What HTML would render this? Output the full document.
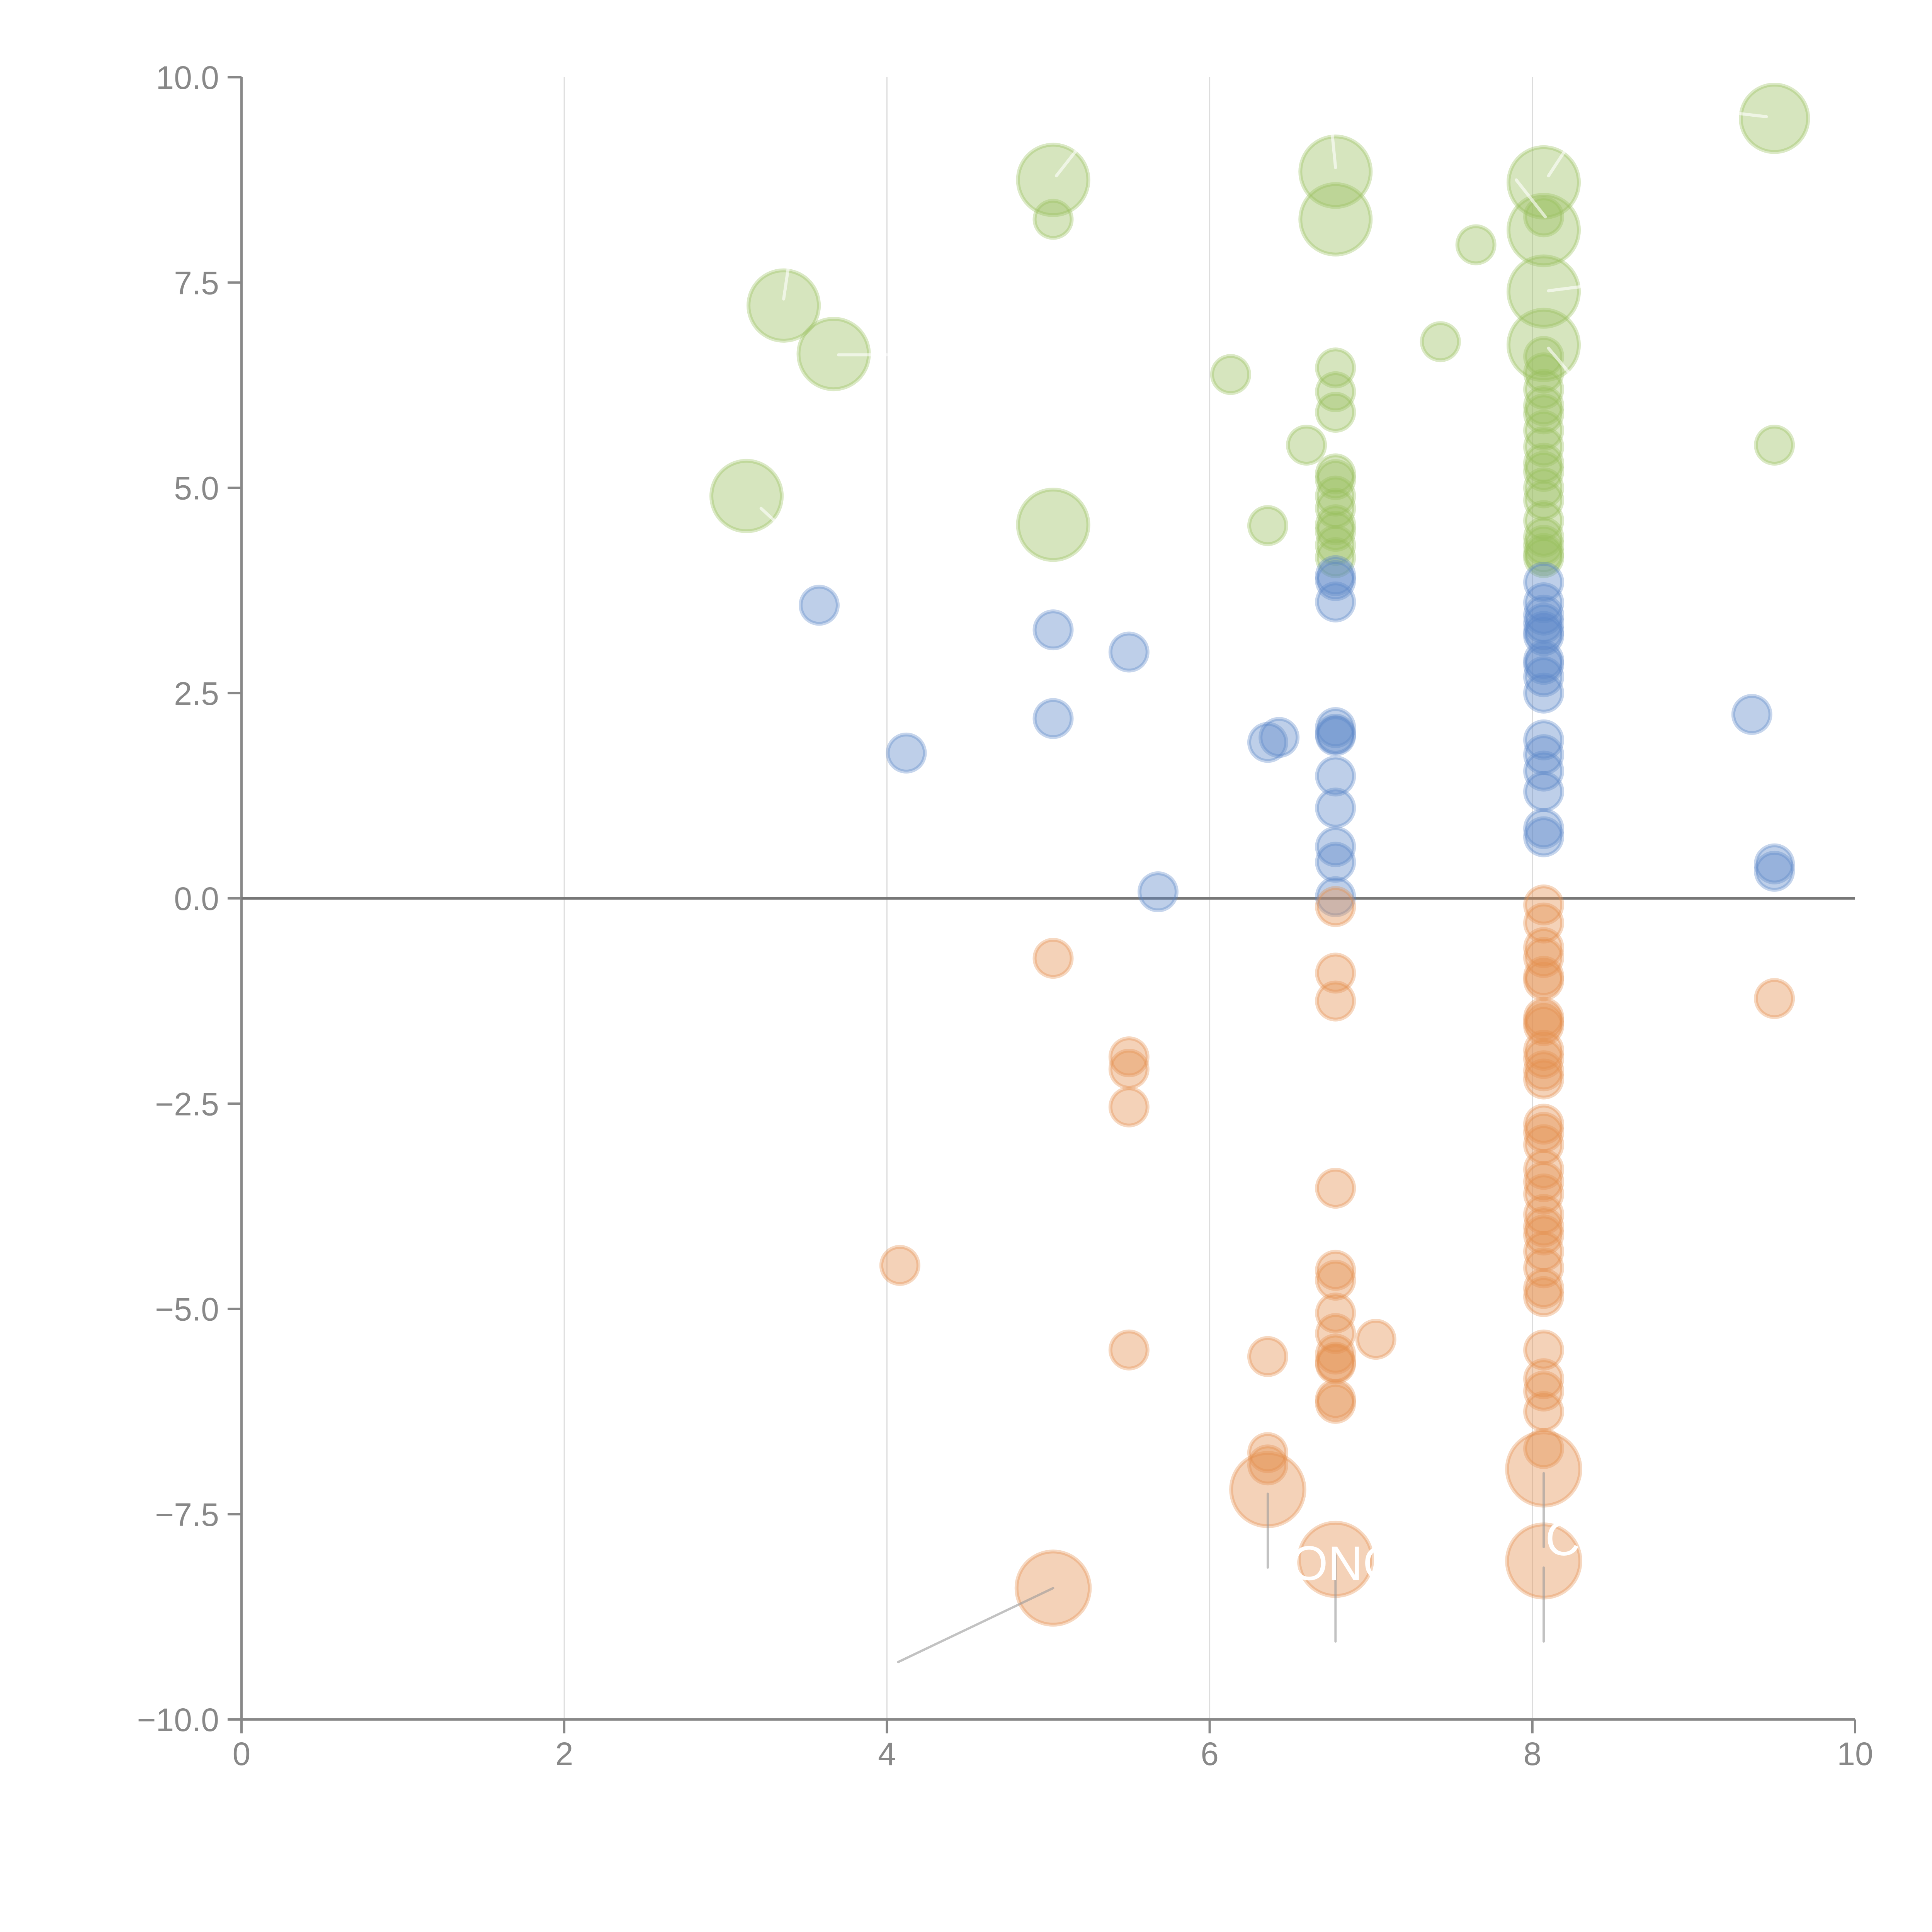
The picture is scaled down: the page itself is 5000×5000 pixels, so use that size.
<!DOCTYPE html>
<html><head><meta charset="utf-8"><style>
html,body{margin:0;padding:0;background:#fff;}
svg{display:block;}
text{font-family:"Liberation Sans",sans-serif;}
</style></head><body>
<svg id="chart" width="5000" height="5000" viewBox="0 0 5000 5000" xmlns="http://www.w3.org/2000/svg">
<g id="grid"></g>
<g id="axes"></g>
<g id="marks"></g>
<g id="annot"></g>
</svg>
<script>
const xTicks=[0,2,4,6,8,10];
const yTicks=[10,7.5,5,2.5,0,-2.5,-5,-7.5,-10];
const yTickLabels=["10.0","7.5","5.0","2.5","0.0","\u22122.5","\u22125.0","\u22127.5","\u221210.0"];
// green series
const greenX=[3.36,3.67,3.13,5.03,5.03,6.78,6.78,8.07,8.07,8.07,8.07,9.5,
 5.03,6.13,6.6,6.36,7.65,7.43,9.5,
 6.78,6.78,6.78,6.78,6.78,6.78,6.78,6.78,6.78,6.78,6.78,
 8.07,8.07,8.07,8.07,8.07,8.07,8.07,8.07,8.07,8.07,8.07,8.07,8.07,8.07,8.07,8.07,8.07];
const greenY=[7.22,6.63,4.9,8.75,4.55,8.85,8.27,8.72,8.14,7.39,6.74,9.5,
 8.27,6.38,5.52,4.54,7.96,6.78,5.52,
 6.46,6.17,5.92,5.17,5.1,4.9,4.75,4.55,4.3,4.15,4.47,
 6.6,6.4,6.2,6.0,5.9,5.7,5.5,5.3,5.2,5.0,4.85,4.6,4.4,4.3,4.2,4.15,8.3];
const greenS=[3.6,3.6,3.6,3.6,3.6,3.6,3.6,3.6,3.6,3.6,3.6,3.3,
 1,1,1,1,1,1,1, 1,1,1,1,1,1,1,1,1,1,1, 1,1,1,1,1,1,1,1,1,1,1,1,1,1,1,1,1];
// blue series
const blueX=[3.58,4.12,5.03,5.03,5.5,6.36,6.43,5.68,9.36,9.5,9.5,
 6.78,6.78,6.78,6.78,6.78,6.78,6.78,6.78,6.78,6.78,6.78,
 8.07,8.07,8.07,8.07,8.07,8.07,8.07,8.07,8.07,8.07,8.07,8.07,8.07,8.07,8.07,8.07];
const blueY=[3.57,1.77,3.27,2.19,3.0,1.9,1.96,0.08,2.24,0.42,0.33,
 3.93,3.87,3.61,2.08,2.0,1.98,1.49,1.1,0.63,0.44,0.02,
 3.85,3.6,3.45,3.35,3.25,3.2,2.9,2.85,2.7,2.5,1.93,1.75,1.55,1.3,0.85,0.75];
const blueS=blueX.map(()=>1);
// orange series
const orangeX=[5.03,5.5,5.5,5.5,4.08,5.5,6.36,6.36,6.36,7.03,9.5,
 5.03,6.36,6.78,8.07,8.07,
 6.78,6.78,6.78,6.78,6.78,6.78,6.78,6.78,6.78,6.78,6.78,6.78,6.78,
 8.07,8.07,8.07,8.07,8.07,8.07,8.07,8.07,8.07,8.07,8.07,8.07,8.07,8.07,8.07,8.07,8.07,8.07,8.07,8.07,8.07,8.07,8.07,8.07,8.07,8.07,8.07,8.07,8.07,8.07,8.07];
const orangeY=[-0.73,-1.93,-2.08,-2.54,-4.47,-5.5,-5.58,-6.75,-6.9,-5.37,-1.22,
 -8.4,-7.2,-8.05,-6.95,-8.07,
 -0.1,-0.91,-1.25,-3.53,-4.53,-4.65,-5.05,-5.3,-5.55,-5.65,-5.67,-6.1,-6.15,
 -0.08,-0.3,-0.6,-0.72,-0.95,-1.0,-1.45,-1.5,-1.55,-1.85,-1.95,-2.1,-2.2,-2.75,-2.85,-3.0,-3.3,-3.45,-3.6,-3.85,-4.0,-4.1,-4.3,-4.5,-4.75,-4.85,-5.5,-5.85,-6.0,-6.25,-6.7];
const orangeS=orangeX.map((v,i)=>(i>=11&&i<16)?3.9:1);

const NS="http://www.w3.org/2000/svg";
const X0=625,X1=4801,Y0=4450,Y1=200;
const sx=v=>X0+(v-0)/(10-0)*(X1-X0);
const sy=v=>Y0-(v+10)/20*(Y0-Y1);
const sr=s=>48*Math.sqrt(s);
function mk(tag,attrs,parent){const e=document.createElementNS(NS,tag);for(const k in attrs)e.setAttribute(k,attrs[k]);parent.appendChild(e);return e;}
const grid=document.getElementById('grid'),axes=document.getElementById('axes'),marks=document.getElementById('marks'),annot=document.getElementById('annot');

xTicks.forEach(t=>{
  if(t>0&&t<10){const l=mk('line',{x1:sx(t),x2:sx(t),y1:Y1,y2:Y0,stroke:'#dcdcdc','stroke-width':3},grid);
  
  }
  const tk=mk('line',{x1:sx(t),x2:sx(t),y1:Y0,y2:Y0+36,stroke:'#888','stroke-width':6},axes);
  
  
  const tx=mk('text',{x:sx(t),y:Y0+118,'text-anchor':'middle','font-size':84,fill:'#888'},axes);
  tx.textContent=t;
  
  
});
yTicks.forEach((t,i)=>{
  const tk=mk('line',{x1:X0-36,x2:X0,y1:sy(t),y2:sy(t),stroke:'#888','stroke-width':6},axes);
  
  
  const tx=mk('text',{x:X0-58,y:sy(t)+30,'text-anchor':'end','font-size':84,fill:'#888'},axes);
  tx.textContent=yTickLabels[i];
  
  
});
const ya=mk('line',{x1:X0,x2:X0,y1:Y1,y2:Y0,stroke:'#888','stroke-width':6},axes);


const xa=mk('line',{x1:X0,x2:X1,y1:Y0,y2:Y0,stroke:'#888','stroke-width':6},axes);


const zl=mk('line',{x1:X0,x2:X1,y1:sy(0),y2:sy(0),stroke:'#777','stroke-width':7},axes);



function series(xs,ys,ss,col,name){
  xs.forEach((x,i)=>{
    const c=mk('circle',{cx:sx(x),cy:sy(ys[i]),r:sr(ss[i]),fill:col,'fill-opacity':0.4,stroke:col,'stroke-opacity':0.35,'stroke-width':10},marks);
    
    
  });
}
series(greenX,greenY,greenS,'#99bf5c','green-bubble');
series(blueX,blueY,blueS,'#5c88c8','blue-bubble');
series(orangeX,orangeY,orangeS,'#e48e4e','orange-bubble');

// leader lines (gray)
const leaders=[[5.03,-8.4,4.07,-9.3],[6.36,-7.25,6.36,-8.15],[6.78,-8.0,6.78,-9.05],[8.07,-7.0,8.07,-7.9],[8.07,-8.15,8.07,-9.05]];
leaders.forEach(a=>{
  const l=mk('line',{x1:sx(a[0]),y1:sy(a[1]),x2:sx(a[2]),y2:sy(a[3]),stroke:'#999','stroke-opacity':0.6,'stroke-width':6,'stroke-linecap':'round'},annot);
  
  
});
// white leader lines
const wl=[[3.36,7.3,3.39,7.7],[3.7,6.62,4.0,6.62],[3.22,4.75,3.33,4.55],[5.05,8.8,5.17,9.1],[6.78,8.9,6.76,9.3],[8.1,8.8,8.2,9.1],[8.08,8.3,7.9,8.75],[8.1,7.4,8.3,7.45],[8.1,6.7,8.25,6.35],[9.45,9.52,9.1,9.6]];
wl.forEach(a=>{
  const l=mk('line',{x1:sx(a[0]),y1:sy(a[1]),x2:sx(a[2]),y2:sy(a[3]),stroke:'#fff','stroke-opacity':0.6,'stroke-width':8,'stroke-linecap':'round'},annot);
  
  
});
const lbl1=mk('text',{x:sx(6.5),y:sy(-8.3),'font-size':125,fill:'#fff'},annot);
lbl1.textContent='ONG';


const lbl2=mk('text',{x:sx(8.08),y:sy(-8.0),'font-size':125,fill:'#fff'},annot);
lbl2.textContent='C';


</script>
</body></html>
